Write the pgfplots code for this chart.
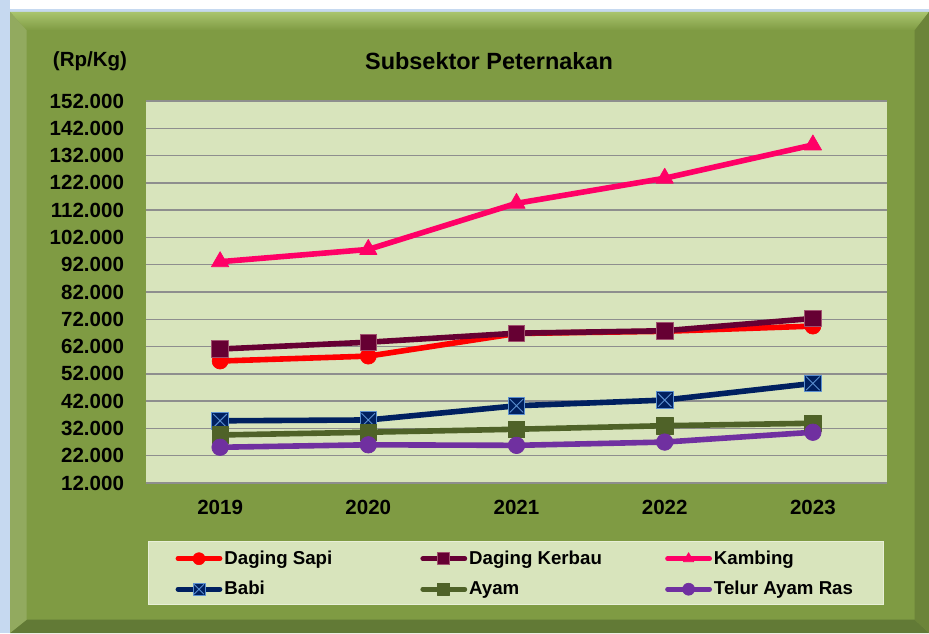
\documentclass[border=0pt]{standalone}
\usepackage{pgfplots}
\pgfplotsset{compat=1.18}
\usepackage{fontspec}
\setmainfont{Liberation Sans}

\definecolor{panel}{HTML}{7F9B43}
\definecolor{panellight}{HTML}{A9C46E}
\definecolor{paneldark}{HTML}{627A36}
\definecolor{frame}{HTML}{C6D9F0}
\definecolor{plotbg}{HTML}{D8E4BC}
\definecolor{gridc}{HTML}{8E8E8E}
\definecolor{sapi}{HTML}{FF0000}
\definecolor{kerbau}{HTML}{660033}
\definecolor{kerbauedge}{HTML}{A0506E}
\definecolor{kambing}{HTML}{FF0066}
\definecolor{babi}{HTML}{002060}
\definecolor{babix}{HTML}{5B8FD0}
\definecolor{ayam}{HTML}{4F6228}
\definecolor{telur}{HTML}{7030A0}

% square with a cross, for Babi
\pgfdeclareplotmark{sqx}{%
  \pgfpathrectangle{\pgfqpoint{-\pgfplotmarksize}{-\pgfplotmarksize}}{\pgfqpoint{2\pgfplotmarksize}{2\pgfplotmarksize}}%
  \pgfusepathqfillstroke
  \pgfpathmoveto{\pgfqpoint{-.8\pgfplotmarksize}{-.8\pgfplotmarksize}}%
  \pgfpathlineto{\pgfqpoint{.8\pgfplotmarksize}{.8\pgfplotmarksize}}%
  \pgfpathmoveto{\pgfqpoint{-.8\pgfplotmarksize}{.8\pgfplotmarksize}}%
  \pgfpathlineto{\pgfqpoint{.8\pgfplotmarksize}{-.8\pgfplotmarksize}}%
  \pgfusepathqstroke
}

\begin{document}
\begin{tikzpicture}
% background panel (1px = 0.75pt)
\useasboundingbox (0,0) rectangle (696.75pt,474.75pt);
\fill[white] (0,0) rectangle (696.75pt,474.75pt);
\fill[frame] (0,0) rectangle (7.5pt,474.75pt);
\fill[frame] (0,465.75pt) rectangle (696.75pt,468pt);
\fill[panel] (7.5pt,0) rectangle (696.75pt,465.75pt);
\shade[top color=panellight, bottom color=panel] (7.5pt,465.75pt) -- (696.75pt,465.75pt) -- (686pt,452pt) -- (20pt,452pt) -- cycle;
\fill[paneldark] (7.5pt,0) -- (696.75pt,0) -- (686pt,10pt) -- (20pt,10pt) -- cycle;
\fill[panel!85!black] (696.75pt,0) -- (696.75pt,465.75pt) -- (686pt,452pt) -- (686pt,10pt) -- cycle;
\fill[panel!85!white] (7.5pt,0) -- (7.5pt,465.75pt) -- (20pt,452pt) -- (20pt,10pt) -- cycle;
% legend box
\filldraw[fill=plotbg, draw=plotbg!60!white, line width=0.6pt] (111pt,21.75pt) rectangle (662.25pt,69pt);
% titles
\node[font=\fontsize{17.6}{20}\selectfont\bfseries] at (366.75pt,429pt) {Subsektor Peternakan};
\node[font=\fontsize{15.4}{18}\selectfont\bfseries] at (67.5pt,429pt) {(Rp/Kg)};

\begin{axis}[
    at={(109.5pt,112.5pt)}, anchor=south west,
    scale only axis,
    width=555.75pt, height=286.5pt,
    xmin=2018.5, xmax=2023.5,
    ymin=12000, ymax=152000,
    xtick={2019,2020,2021,2022,2023},
    ytick={12000,22000,32000,42000,52000,62000,72000,82000,92000,102000,112000,122000,132000,142000,152000},
    scaled y ticks=false,
    ymajorgrids=true,
    grid style={gridc, line width=1.1pt},
    axis line style={draw=none},
    major tick length=0pt,
    axis background/.style={fill=plotbg},
    /pgf/number format/assume math mode=true,
    tick label style={font=\fontsize{15.4}{18}\selectfont\bfseries},
    y tick label style={/pgf/number format/fixed, /pgf/number format/1000 sep={.}, xshift=-13pt},
    x tick label style={/pgf/number format/1000 sep={}, yshift=-9pt},
    legend columns=3,
    legend cell align=left,
    legend style={draw=none, fill=none, inner sep=0pt,
        at={(axis description cs:0,0)}, anchor=north west, xshift=22pt, yshift=-48.75pt,
        font=\fontsize{14}{16}\selectfont\bfseries,
        nodes={inner xsep=1.5pt},
        /tikz/every odd column/.append style={column sep=0pt},
        /tikz/every even column/.append style={column sep=0pt},
        row sep=7.25pt},
    legend image code/.code={\draw[mark repeat=2,mark phase=2,#1] plot coordinates {(0pt,0pt) (15.75pt,0pt) (31.5pt,0pt)};},
    legend image post style={mark size=4.5pt, line width=3.6pt},
    every axis plot/.append style={line width=4.2pt, line join=round, line cap=round},
]
\addplot[color=sapi, mark=*, mark size=6pt, mark options={fill=sapi, draw=sapi, line width=0.5pt}]
    coordinates {(2019,56700) (2020,58500) (2021,66800) (2022,67600) (2023,69500)};
\addlegendentry{\makebox[145.5pt][l]{Daging Sapi}}
\addplot[color=kerbau, mark=square*, mark size=6.2pt, mark options={fill=kerbau, draw=kerbauedge, line width=0.6pt}]
    coordinates {(2019,61100) (2020,63600) (2021,66900) (2022,67800) (2023,72300)};
\addlegendentry{\makebox[145.5pt][l]{Daging Kerbau}}
\addplot[color=kambing, mark=triangle*, mark size=7.5pt, mark options={fill=kambing, draw=kambing, line width=0.5pt}]
    coordinates {(2019,93100) (2020,97600) (2021,114500) (2022,123700) (2023,135900)};
\addlegendentry{\makebox[145.5pt][l]{Kambing}}
\addplot[color=babi, mark=sqx, mark size=6.2pt, mark options={fill=babi, draw=babix, line width=0.7pt}]
    coordinates {(2019,34800) (2020,35100) (2021,40300) (2022,42400) (2023,48500)};
\addlegendentry{\makebox[145.5pt][l]{Babi}}
\addplot[color=ayam, mark=square*, mark size=6.2pt, mark options={fill=ayam, draw=ayam, line width=0.5pt}]
    coordinates {(2019,29600) (2020,30600) (2021,31700) (2022,33000) (2023,33900)};
\addlegendentry{\makebox[145.5pt][l]{Ayam}}
\addplot[color=telur, mark=*, mark size=6.2pt, mark options={fill=telur, draw=telur, line width=0.5pt}]
    coordinates {(2019,25100) (2020,26000) (2021,25800) (2022,27000) (2023,30600)};
\addlegendentry{\makebox[145.5pt][l]{Telur Ayam Ras}}
\end{axis}
\end{tikzpicture}
\end{document}
